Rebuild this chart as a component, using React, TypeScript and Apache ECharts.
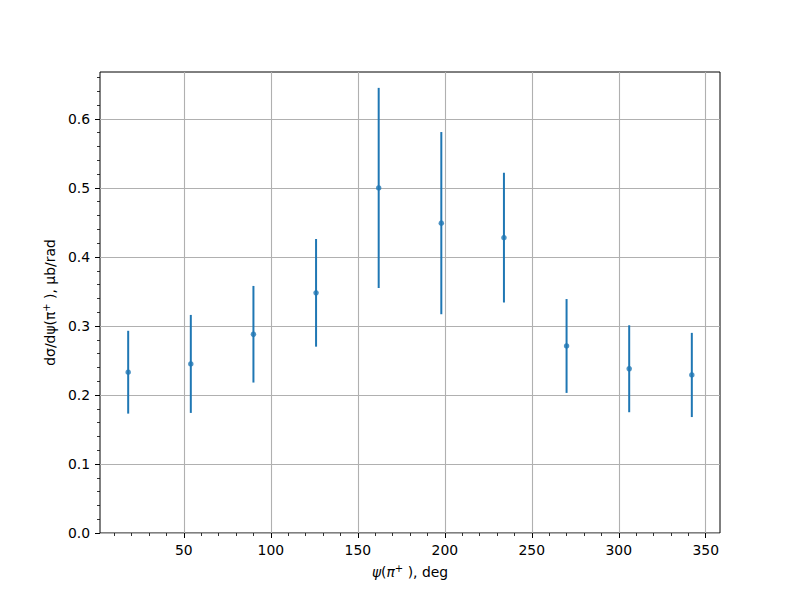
import React, { useEffect, useRef } from "react";
import * as echarts from "echarts";

const xValues = [18, 54, 90, 126, 162, 198, 234, 270, 306, 342];
const yValues = [0.233, 0.245, 0.288, 0.348, 0.5, 0.449, 0.428, 0.271, 0.238, 0.229];
const yErrors = [0.06, 0.071, 0.07, 0.078, 0.145, 0.132, 0.094, 0.068, 0.063, 0.061];

const xMajorTicks = [50, 100, 150, 200, 250, 300, 350];
const xMinorTicks = [10, 20, 30, 40, 60, 70, 80, 90, 110, 120, 130, 140, 160, 170, 180, 190, 210, 220, 230, 240, 260, 270, 280, 290, 310, 320, 330, 340];
const yMajorTicks = [0, 0.1, 0.2, 0.3, 0.4, 0.5, 0.6];
const yMinorTicks = [0.02, 0.04, 0.06, 0.08, 0.12, 0.14, 0.16, 0.18, 0.22, 0.24, 0.26, 0.28, 0.32, 0.34, 0.36, 0.38, 0.42, 0.44, 0.46, 0.48, 0.52, 0.54, 0.56, 0.58, 0.62, 0.64, 0.66];

const X_MIN = 1.8;
const X_MAX = 358.2;
const Y_MIN = 0;
const Y_MAX = 0.668;

const FONT = "DejaVu Sans";
const BLUE = "#1f77b4";

export default function App() {
  const ref = useRef<HTMLDivElement>(null);

  useEffect(() => {
    if (!ref.current) return;
    const chart = echarts.init(ref.current, undefined, { renderer: "svg" });

    const errData = xValues.map((x, i) => [x, yValues[i] - yErrors[i], yValues[i] + yErrors[i]]);
    const ptData = xValues.map((x, i) => [x, yValues[i]]);

    const option: any = {
      animation: false,
      backgroundColor: "#ffffff",
      textStyle: { fontFamily: FONT },
      grid: {
        left: 100,
        right: 80,
        top: 72,
        bottom: 67,
        show: true,
        borderColor: "#000000",
        borderWidth: 1,
        backgroundColor: "transparent",
      },
      xAxis: [
        {
          type: "value",
          min: X_MIN,
          max: X_MAX,
          position: "bottom",
          axisLine: { show: false },
          axisTick: { show: true, customValues: xMajorTicks, length: 5, lineStyle: { color: "#000", width: 1 } },
          axisLabel: {
            customValues: xMajorTicks,
            margin: 10,
            color: "#000",
            fontFamily: FONT,
            fontSize: 13.9,
          },
          splitLine: { show: true, lineStyle: { color: "#b0b0b0", width: 1.1 } },
          name: "{i|ψ}({i|π}{sup|+} ), deg",
          nameLocation: "middle",
          nameGap: 30,
          nameTextStyle: {
            color: "#000",
            fontFamily: FONT,
            fontSize: 13.9,
            rich: {
              i: { fontStyle: "italic", fontFamily: FONT, fontSize: 13.9, color: "#000" },
              sup: { fontStyle: "normal", fontFamily: FONT, fontSize: 10, color: "#000", verticalAlign: "top", padding: [0, 0, 8, 0] },
            },
          },
        },
        {
          type: "value",
          min: X_MIN,
          max: X_MAX,
          position: "bottom",
          axisLine: { show: false },
          axisTick: { show: true, customValues: xMinorTicks, length: 3, lineStyle: { color: "#000", width: 0.8 } },
          axisLabel: { show: false },
          splitLine: { show: false },
        },
      ],
      yAxis: [
        {
          type: "value",
          min: Y_MIN,
          max: Y_MAX,
          position: "left",
          axisLine: { show: false },
          axisTick: { show: true, customValues: yMajorTicks, length: 5, lineStyle: { color: "#000", width: 1 } },
          axisLabel: {
            customValues: yMajorTicks,
            margin: 10,
            color: "#000",
            fontFamily: FONT,
            fontSize: 13.9,
            formatter: (v: number) => v.toFixed(1),
          },
          splitLine: { show: true, lineStyle: { color: "#b0b0b0", width: 1.1 } },
          name: "dσ/dψ(π{sup|+} ), μb/rad",
          nameLocation: "middle",
          nameGap: 41,
          nameRotate: 90,
          nameTextStyle: {
            color: "#000",
            fontFamily: FONT,
            fontSize: 13.9,
            rich: {
              sup: { fontFamily: FONT, fontSize: 10, color: "#000", verticalAlign: "top", padding: [0, 0, 8, 0] },
            },
          },
        },
        {
          type: "value",
          min: Y_MIN,
          max: Y_MAX,
          position: "left",
          axisLine: { show: false },
          axisTick: { show: true, customValues: yMinorTicks, length: 3, lineStyle: { color: "#000", width: 0.8 } },
          axisLabel: { show: false },
          splitLine: { show: false },
        },
      ],
      series: [
        {
          type: "custom",
          xAxisIndex: 0,
          yAxisIndex: 0,
          data: errData,
          encode: { x: 0, y: [1, 2] },
          renderItem: (params: any, api: any) => {
            const x = api.value(0);
            const p1 = api.coord([x, api.value(1)]);
            const p2 = api.coord([x, api.value(2)]);
            return {
              type: "line",
              shape: { x1: p1[0], y1: p1[1], x2: p2[0], y2: p2[1] },
              style: { stroke: BLUE, lineWidth: 2 },
            };
          },
          z: 3,
        },
        {
          type: "scatter",
          xAxisIndex: 0,
          yAxisIndex: 0,
          data: ptData,
          symbol: "circle",
          symbolSize: 5.5,
          itemStyle: { color: BLUE },
          z: 4,
        },
      ],
    };

    chart.setOption(option);
    return () => chart.dispose();
  }, []);

  return (
    <div
      ref={ref}
      style={{ position: "fixed", left: 0, top: 0, width: 800, height: 600, background: "#fff" }}
    />
  );
}
